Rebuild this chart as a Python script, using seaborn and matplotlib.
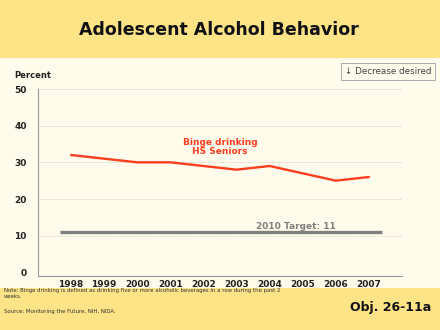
import matplotlib
matplotlib.use("Agg")
import matplotlib.pyplot as plt
import matplotlib.patches as mpatches
import seaborn as sns
import pandas as pd

years = [1998, 1999, 2000, 2001, 2002, 2003, 2004, 2005, 2006, 2007]
binge = [32, 31, 30, 30, 29, 28, 29, 27, 25, 26]
target = 11
yticks = [0, 10, 20, 30, 40, 50]

sns.set_theme(style="white")
plt.rcParams['font.family'] = ['DejaVu Sans']

YELLOW = "#FEE387"
CREAM = "#FFFCEB"
RED = "#FF3D1F"
GRAY = "#808080"

fig = plt.figure(figsize=(4.4, 3.3), dpi=100)
fig.patch.set_facecolor(CREAM)
# bands
fig.patches.append(mpatches.Rectangle((0, 1 - 58/330), 1, 58/330, transform=fig.transFigure,
                                      facecolor=YELLOW, edgecolor="none", zorder=0))
fig.patches.append(mpatches.Rectangle((0, 0), 1, 42/330, transform=fig.transFigure,
                                      facecolor=YELLOW, edgecolor="none", zorder=0))

ax = fig.add_axes([38/440, (330-276)/330, (402-38)/440, (276-89)/330])
ax.set_facecolor(CREAM)

df = pd.DataFrame({"Year": years, "Percent": binge})
sns.lineplot(data=df, x="Year", y="Percent", ax=ax, color=RED, linewidth=1.7)
ax.hlines(target, 1997.65, 2007.4, color=GRAY, linewidth=2.4, zorder=3)

ax.set_xlim(1997, 2008)
ax.set_ylim(-1, 50)
ax.set_yticks(yticks)
ax.set_xticks(years)
ax.set_yticklabels([str(v) for v in yticks], fontsize=6.5, fontweight="bold", color="#222222")
ax.set_xticklabels([str(v) for v in years], fontsize=6.5, fontweight="bold", color="#222222")
ax.tick_params(axis="x", direction="in", length=3, width=0.6, color="#888888", pad=3)
ax.tick_params(axis="y", length=0, pad=8)
ax.set_xlabel("")
ax.set_ylabel("")
for s in ["top", "right"]:
    ax.spines[s].set_visible(False)
for s in ["left", "bottom"]:
    ax.spines[s].set_color("#999999")
    ax.spines[s].set_linewidth(0.8)
for v in yticks[1:]:
    ax.axhline(v, color="#D0CCC0", linewidth=0.6, linestyle=(0, (1, 1)), zorder=1)

ax.text(2002.5, 34.3, "Binge drinking\nHS Seniors", color=RED, fontsize=6.5, fontweight="bold",
        ha="center", va="center", linespacing=1.0)
ax.text(2004.8, 11.4, "2010 Target: 11", color=GRAY, fontsize=6.5, fontweight="bold",
        ha="center", va="bottom")

fig.text(219/440, 1 - 30/330, "Adolescent Alcohol Behavior", ha="center", va="center",
         fontsize=12.5, fontweight="bold", color="#111111")
fig.text(14/440, 1 - 75/330, "Percent", ha="left", va="center", fontsize=6, fontweight="bold",
         color="#222222")
fig.text(345/440, 1 - 71.5/330, "\u2193 Decrease desired", ha="left", va="center", fontsize=6.3,
         color="#444444",
         bbox=dict(boxstyle="square,pad=0.45", facecolor=CREAM, edgecolor="#AAAAAA", linewidth=0.7))

fig.text(4/440, 1 - 293.5/330,
         "Note: Binge drinking is defined as drinking five or more alcoholic beverages in a row during the past 2\nweeks.",
         ha="left", va="center", fontsize=3.85, color="#333333", linespacing=1.3)
fig.text(4/440, 1 - 311/330, "Source: Monitoring the Future, NIH, NIDA.", ha="left", va="center",
         fontsize=3.85, color="#333333")
fig.text(431/440, 1 - 307/330, "Obj. 26-11a", ha="right", va="center", fontsize=9,
         fontweight="bold", color="#111111")

fig.savefig("out.png", dpi=100, facecolor=fig.get_facecolor())
